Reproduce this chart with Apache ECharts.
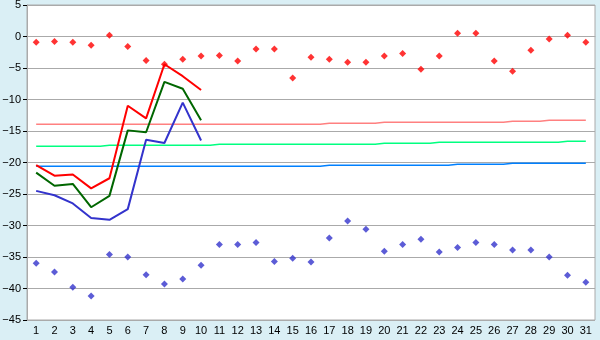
<!DOCTYPE html>
<html><head><meta charset="utf-8">
<script src="https://cdn.jsdelivr.net/npm/echarts@6/dist/echarts.min.js"></script>
<style>html,body{margin:0;padding:0;background:#daeff5}#c{width:600px;height:340px}</style>
</head><body><div id="c"></div>
<script>
const days = ['1','2','3','4','5','6','7','8','9','10','11','12','13','14','15','16','17','18','19','20','21','22','23','24','25','26','27','28','29','30','31'];
const yTicks = [5,0,-5,-10,-15,-20,-25,-30,-35,-40,-45];
const recordMax = [-0.9,-0.8,-0.9,-1.4,0.2,-1.6,-3.8,-4.4,-3.6,-3.1,-3.0,-3.9,-2.0,-2.0,-6.6,-3.3,-3.6,-4.1,-4.1,-3.1,-2.7,-5.2,-3.1,0.5,0.5,-3.9,-5.5,-2.2,-0.4,0.2,-0.9];
const recordMin = [-36.0,-37.4,-39.8,-41.2,-34.6,-35.0,-37.8,-39.3,-38.5,-36.3,-33.0,-33.0,-32.7,-35.7,-35.2,-35.8,-32.0,-29.3,-30.6,-34.1,-33.0,-32.2,-34.2,-33.5,-32.7,-33.0,-33.9,-33.9,-35.0,-37.9,-39.0];
const tMax = [-20.4,-22.1,-21.9,-24.1,-22.5,-11.0,-13.0,-4.4,-6.3,-8.5];
const tMean = [-21.6,-23.7,-23.4,-27.1,-25.3,-14.9,-15.2,-7.2,-8.3,-13.3];
const tMin = [-24.5,-25.2,-26.5,-28.8,-29.1,-27.4,-16.4,-16.9,-10.5,-16.5];
const normMax = [-13.94,-13.94,-13.94,-13.94,-13.94,-13.94,-13.94,-13.94,-13.94,-13.94,-13.94,-13.94,-13.94,-13.94,-13.94,-13.94,-13.78,-13.78,-13.78,-13.62,-13.62,-13.62,-13.62,-13.62,-13.62,-13.62,-13.46,-13.46,-13.3,-13.3,-13.3];
const normMean = [-17.43,-17.43,-17.43,-17.43,-17.27,-17.27,-17.27,-17.27,-17.27,-17.27,-17.11,-17.11,-17.11,-17.11,-17.11,-17.11,-17.11,-17.11,-17.11,-16.95,-16.95,-16.95,-16.79,-16.79,-16.79,-16.79,-16.79,-16.79,-16.79,-16.63,-16.63];
const normMin = [-20.6,-20.6,-20.6,-20.6,-20.6,-20.6,-20.6,-20.6,-20.6,-20.6,-20.6,-20.6,-20.6,-20.6,-20.6,-20.6,-20.44,-20.44,-20.44,-20.44,-20.44,-20.44,-20.44,-20.29,-20.29,-20.29,-20.13,-20.13,-20.13,-20.13,-20.13];

const chart = echarts.init(document.getElementById('c'), null, {renderer:'canvas'});
const font = 'Liberation Sans';
function lineS(data, color, w, step){
  return {type:'line', data, step: step ? 'middle' : false, symbol:'none', animation:false,
    lineStyle:{color, width:w}, itemStyle:{color}, z: step ? 2 : 3};
}
function scat(data, color){
  return {type:'scatter', data, symbol:'diamond', symbolSize:7, animation:false,
    itemStyle:{color}, z:4};
}
chart.setOption({
  backgroundColor:'#daeff5',
  animation:false,
  grid:{left:27, right:5, top:5, bottom:20, outerBoundsMode:'none', containLabel:false,
    show:true, backgroundColor:'#ffffff', borderColor:'#aaaaaa', borderWidth:1},
  xAxis:{type:'category', data:days, boundaryGap:true,
    axisLine:{lineStyle:{color:'#aaaaaa', width:1}},
    axisTick:{alignWithLabel:true, length:5, lineStyle:{color:'#000'}},
    axisLabel:{color:'#000', fontFamily:font, fontSize:11, margin:5, interval:0},
    splitLine:{show:false}},
  yAxis:{type:'value', min:yTicks[yTicks.length-1], max:yTicks[0], interval:5,
    axisLine:{show:true, lineStyle:{color:'#aaaaaa'}},
    axisTick:{show:true, length:4, lineStyle:{color:'#000'}},
    axisLabel:{color:'#000', fontFamily:font, fontSize:11, margin:6,
      formatter: v => String(v).replace('-', '\u2212')},
    splitLine:{lineStyle:{color:'#aaaaaa', width:1}}},
  series:[
    lineS(normMax, '#ff8080', 1.5, true),
    lineS(normMean, '#00ff80', 1.5, true),
    lineS(normMin, '#0080ff', 1.5, true),
    lineS(tMin, '#3333cc', 2, false),
    lineS(tMean, '#006600', 2, false),
    lineS(tMax, '#ff0000', 2, false),
    scat(recordMax, '#ff0000'),
    scat(recordMin, '#3333cc')
  ]
});
</script></body></html>
